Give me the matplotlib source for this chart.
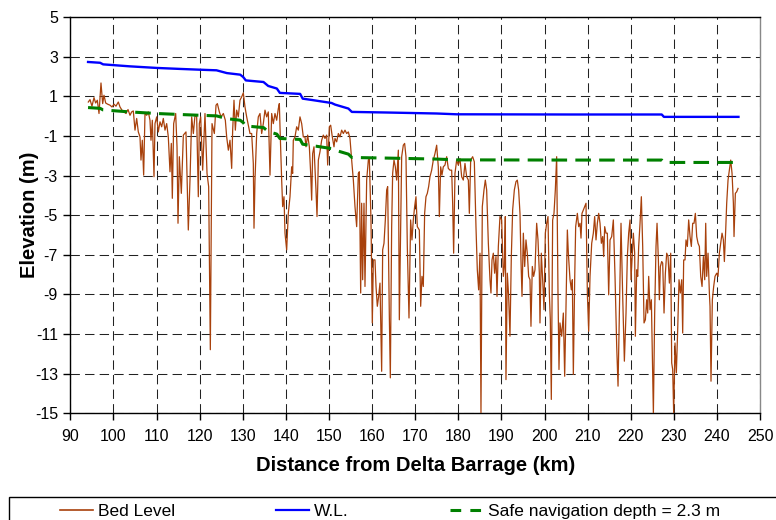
import matplotlib
matplotlib.use("Agg")
import matplotlib.pyplot as plt
from matplotlib.lines import Line2D
from matplotlib.patches import Rectangle
import numpy as np

plt.rcParams["font.family"] = ["Liberation Sans", "DejaVu Sans"]
plt.rcParams["axes.unicode_minus"] = False

# surveyed bed profile, chainage in km downstream of the Delta Barrage
bed_km = [
    94.16, 94.55, 95.01, 95.48, 95.86, 96.25, 96.64, 97.10, 97.49, 97.80,
    98.19, 98.65, 99.19, 99.65, 100.12, 100.58, 101.12, 101.51, 101.97, 102.44,
    102.90, 103.37, 103.83, 104.22, 104.60, 104.99, 105.38, 105.76, 106.15, 106.38,
    106.69, 107.00, 107.31, 107.70, 108.08, 108.47, 108.70, 109.01, 109.40, 109.63,
    110.02, 110.40, 110.79, 111.18, 111.56, 111.95, 112.34, 112.72, 113.11, 113.42,
    113.65, 113.96, 114.43, 114.74, 114.97, 115.28, 115.74, 116.21, 116.82, 117.36,
    117.75, 118.14, 118.53, 118.91, 119.30, 119.68, 119.92, 120.23, 120.69, 121.23,
    121.70, 122.08, 122.47, 122.86, 123.40, 123.79, 124.10, 124.56, 124.95, 125.49,
    125.95, 126.26, 126.65, 127.03, 127.42, 127.65, 127.96, 128.27, 128.58, 128.96,
    129.35, 129.74, 130.12, 130.51, 130.90, 131.67, 132.06, 132.44, 132.60, 132.83,
    133.22, 133.60, 133.99, 134.38, 134.76, 135.15, 135.54, 135.92, 136.31, 136.70,
    137.08, 137.47, 137.86, 138.24, 138.48, 138.63, 139.02, 139.25, 139.56, 139.79,
    140.18, 140.56, 140.95, 141.34, 141.57, 141.72, 142.11, 142.50, 142.88, 143.27,
    143.66, 144.04, 144.43, 144.66, 145.05, 145.44, 145.75, 145.98, 146.21, 146.52,
    146.98, 147.22, 147.53, 147.91, 148.30, 148.68, 149.07, 149.46, 149.69, 150.08,
    150.39, 150.77, 151.16, 151.39, 151.78, 152.17, 152.55, 152.94, 153.33, 153.71,
    154.10, 154.49, 154.87, 155.26, 155.65, 156.03, 156.42, 156.81, 157.04, 157.35,
    157.58, 157.81, 158.12, 158.35, 158.74, 159.13, 159.36, 159.74, 160.05, 160.29,
    160.67, 160.91, 161.21, 161.52, 161.83, 162.22, 162.45, 162.76, 163.07, 163.38,
    163.61, 164.00, 164.23, 164.54, 164.77, 165.08, 165.39, 165.70, 166.09, 166.32,
    166.86, 167.24, 167.55, 167.86, 168.17, 168.56, 168.94, 169.25, 169.56, 169.87,
    170.18, 170.49, 170.96, 171.27, 171.57, 171.88, 172.19, 172.50, 172.81, 173.12,
    173.43, 173.82, 174.20, 174.59, 174.98, 175.36, 175.60, 175.91, 176.21, 176.52,
    176.91, 177.30, 177.68, 178.07, 178.46, 178.69, 178.92, 179.23, 179.62, 180.00,
    180.39, 180.78, 181.16, 181.55, 181.94, 182.33, 182.56, 182.87, 183.33, 183.72,
    184.10, 184.41, 184.72, 185.03, 185.26, 185.57, 185.96, 186.27, 186.58, 186.97,
    187.35, 187.58, 187.82, 188.13, 188.43, 188.74, 188.98, 189.29, 189.67, 190.06,
    190.45, 190.68, 190.91, 191.06, 191.37, 191.68, 191.99, 192.30, 192.61, 193.00,
    193.38, 193.69, 194.00, 194.31, 194.54, 194.78, 195.09, 195.40, 195.70, 196.01,
    196.32, 196.63, 196.86, 197.17, 197.48, 197.79, 198.18, 198.49, 198.80, 198.95,
    199.26, 199.57, 199.88, 200.19, 200.50, 200.81, 201.12, 201.35, 201.58, 201.89,
    202.20, 202.51, 202.82, 203.13, 203.36, 203.59, 203.99, 204.37, 204.68, 204.99,
    205.30, 205.53, 205.92, 206.23, 206.46, 206.69, 207.00, 207.23, 207.62, 207.93,
    208.24, 208.47, 208.70, 209.01, 209.32, 209.63, 209.94, 210.25, 210.56, 210.95,
    211.33, 211.64, 211.95, 212.26, 212.57, 212.88, 213.19, 213.50, 213.73, 213.96,
    214.27, 214.58, 214.89, 215.20, 215.59, 215.97, 216.36, 216.75, 217.06, 217.37,
    217.75, 218.14, 218.53, 218.91, 219.22, 219.53, 219.84, 220.07, 220.38, 220.61,
    220.92, 221.08, 221.39, 221.62, 221.85, 222.16, 222.47, 222.78, 223.09, 223.40,
    223.71, 223.94, 224.17, 224.48, 224.79, 225.10, 225.26, 225.56, 225.87, 226.11,
    226.42, 226.65, 226.88, 227.19, 227.42, 227.73, 228.04, 228.35, 228.66, 228.97,
    229.28, 229.51, 229.74, 229.97, 230.28, 230.59, 230.90, 231.21, 231.52, 231.83,
    232.06, 232.29, 232.60, 232.83, 233.14, 233.45, 233.76, 234.07, 234.38, 234.69,
    235.00, 235.31, 235.62, 235.93, 236.24, 236.55, 236.86, 237.17, 237.40, 237.63,
    237.94, 238.25, 238.40, 238.63, 238.94, 239.25, 239.56, 239.95, 240.26, 240.57,
    240.88, 241.19, 241.50, 241.73, 242.04, 242.27, 242.58, 242.89, 243.20, 243.51,
    243.82, 243.97, 244.28, 244.59, 244.90,
]
bed_level = [
    0.71, 0.83, 0.50, 0.93, 0.66, 0.80, 0.13, 1.67, 0.63, 1.05,
    0.66, 0.60, 0.55, 0.46, 0.60, 0.50, 0.71, 0.46, 0.30, 0.21,
    0.13, 0.33, 0.04, 0.21, 0.26, -0.71, -0.12, -0.80, -1.05, -2.22,
    -1.22, -2.98, 0.13, 0.04, 0.21, -0.21, -1.22, -0.21, -3.06, -0.38,
    -0.04, -0.80, -0.29, -0.54, -0.12, -0.71, -0.38, -1.05, -2.81, -1.38,
    -4.15, -0.38, 0.13, -1.55, -5.41, -2.05, -3.90, -0.96, -0.80, -5.75,
    -3.23, -0.04, -0.88, 0.04, -0.04, -4.07, -0.38, -0.04, -2.73, 0.13,
    -2.89, -3.56, -11.79, -0.38, -0.88, 0.55, 0.63, 0.21, -0.04, 0.13,
    -0.21, -1.05, -1.72, -1.22, -2.64, -0.71, 0.80, -0.71, 0.30, -0.04,
    0.80, 0.97, 1.17, 0.46, -0.04, -0.88, -0.88, -2.39, -5.66, -3.23,
    -0.88, -0.04, 0.13, -0.88, -0.38, 0.30, -0.04, 0.21, -2.98, 0.13,
    -0.38, 0.13, -0.21, 0.38, 0.63, -0.54, -3.23, -4.57, -4.07, -5.91,
    -6.75, -4.91, -4.07, -2.56, -2.89, -1.22, -1.05, -0.54, -0.71, -0.04,
    -0.38, -1.05, -1.05, -1.55, -0.96, -1.55, -2.89, -4.24, -1.89, -1.55,
    -3.73, -5.07, -2.22, -1.80, -1.22, -0.96, -1.13, -0.96, -2.47, -0.54,
    -0.46, -1.05, -1.55, -1.13, -1.30, -0.88, -1.05, -0.71, -0.88, -0.71,
    -0.88, -0.80, -1.13, -2.22, -3.23, -4.57, -5.58, -2.89, -2.81, -8.93,
    -4.40, -8.26, -4.40, -8.60, -3.23, -2.22, -2.14, -5.24, -10.44, -7.26,
    -7.26, -8.60, -9.60, -9.10, -8.43, -12.88, -6.75, -6.42, -5.24, -3.73,
    -3.56, -10.11, -13.21, -5.58, -2.89, -2.22, -2.56, -3.23, -1.72, -10.28,
    -2.05, -1.47, -1.38, -2.05, -6.58, -10.19, -5.24, -6.25, -5.24, -4.57,
    -4.07, -5.58, -5.75, -9.60, -8.09, -8.60, -4.91, -4.07, -3.90, -3.56,
    -3.06, -2.73, -2.22, -1.89, -1.47, -2.56, -5.07, -2.56, -2.98, -2.56,
    -2.47, -2.05, -2.64, -2.73, -2.73, -4.40, -6.92, -2.89, -2.22, -2.47,
    -2.14, -3.06, -3.23, -2.39, -3.06, -3.23, -4.91, -2.22, -2.05, -2.31,
    -5.58, -7.76, -8.77, -6.92, -15.00, -4.57, -3.73, -3.23, -3.73, -6.42,
    -8.26, -8.93, -7.26, -6.92, -7.93, -7.09, -9.10, -6.58, -5.07, -5.24,
    -8.09, -7.59, -5.07, -13.30, -7.93, -9.10, -11.11, -7.09, -4.74, -3.73,
    -3.31, -3.23, -3.73, -4.91, -7.26, -9.10, -5.91, -7.59, -6.25, -6.92,
    -8.09, -8.26, -10.61, -7.59, -8.09, -7.76, -5.41, -6.25, -7.93, -10.44,
    -6.92, -8.26, -9.77, -5.91, -5.41, -5.07, -8.93, -10.28, -14.30, -5.24,
    -4.91, -3.73, -2.05, -8.93, -12.79, -10.44, -11.11, -9.94, -13.13, -9.60,
    -5.75, -6.92, -8.26, -8.77, -8.26, -13.04, -8.26, -5.58, -4.91, -5.58,
    -5.41, -6.16, -4.91, -4.74, -4.57, -4.40, -8.93, -10.86, -8.09, -6.42,
    -5.91, -5.07, -6.25, -5.41, -4.91, -5.41, -6.42, -6.08, -7.09, -5.58,
    -5.91, -5.91, -9.02, -6.25, -6.08, -5.24, -8.09, -11.62, -13.63, -9.94,
    -5.41, -9.10, -12.37, -9.94, -7.09, -5.91, -5.24, -8.26, -6.92, -5.91,
    -6.92, -11.11, -7.76, -8.09, -6.58, -5.41, -4.07, -6.58, -10.44, -10.28,
    -9.27, -9.94, -8.09, -9.77, -9.27, -13.13, -15.00, -9.94, -6.58, -5.41,
    -7.26, -9.27, -7.59, -7.34, -7.42, -9.94, -7.93, -6.92, -7.09, -8.43,
    -6.92, -12.46, -12.79, -15.00, -11.45, -12.96, -10.78, -8.26, -8.93, -8.26,
    -10.95, -7.26, -7.26, -6.25, -6.58, -5.24, -6.08, -6.58, -5.41, -5.41,
    -4.91, -6.08, -6.42, -6.58, -8.09, -8.60, -7.09, -8.26, -5.41, -8.09,
    -6.92, -8.93, -9.60, -13.38, -9.27, -8.60, -8.09, -7.93, -8.09, -6.92,
    -6.42, -5.91, -6.25, -7.34, -5.75, -4.40, -3.23, -2.73, -2.22, -2.89,
    -4.40, -6.08, -3.90, -3.82, -3.65,
]

# water level profile
wl_km = [94.1, 96.9, 97.6, 103.8, 110.0, 115.4, 120.1, 123.9, 126.3, 129.4,
         130.1, 130.7, 134.8, 135.9, 137.9, 138.6, 143.3, 143.9, 146.4, 150.6,
         151.4, 154.5, 155.3, 163.4, 175.0, 179.6, 205.9, 227.2, 227.7, 245.0]
wl_level = [2.73, 2.69, 2.61, 2.51, 2.43, 2.38, 2.34, 2.31, 2.17, 2.09,
            1.97, 1.80, 1.72, 1.52, 1.39, 1.17, 1.12, 0.88, 0.80, 0.66,
            0.58, 0.38, 0.21, 0.18, 0.13, 0.09, 0.08, 0.08, -0.04, -0.04]

safe_depth = 2.3  # m below water level
safe_level = np.array(wl_level) - safe_depth

x_ticks = list(range(90, 251, 10))
y_ticks = list(range(-15, 6, 2))

BED = "#a8410c"; WL = "#0000ff"; SAFE = "#008000"

fig = plt.figure(figsize=(7.76, 5.2), dpi=100)
ax = fig.add_axes([0.0907, 0.2052, 0.8887, 0.7621])

ax.plot(bed_km, bed_level, color=BED, lw=0.9, zorder=3)
ax.plot(wl_km, wl_level, color=WL, lw=1.7, zorder=4)
ax.plot(wl_km, safe_level, color=SAFE, lw=2.2, ls=(0, (5.1, 2.7)), zorder=5)

ax.set_xlim(90, 250); ax.set_ylim(-15, 5)
ax.set_xticks(x_ticks); ax.set_yticks(y_ticks)
ax.tick_params(direction="out", length=5, width=1, labelsize=11.5, colors="black")
ax.tick_params(axis="x", pad=6)
ax.tick_params(axis="y", pad=4)
ax.grid(True, color="#222222", lw=0.75, ls=(0, (9, 5)))
ax.set_axisbelow(True)
for s in ("left", "bottom", "top"):
    ax.spines[s].set_color("black"); ax.spines[s].set_linewidth(1)
ax.spines["right"].set_color("#888888"); ax.spines["right"].set_linewidth(1)

ax.set_xlabel("Distance from Delta Barrage (km)", fontsize=14.5, weight="bold")
ax.set_ylabel("Elevation (m)", fontsize=14.5, weight="bold")
ax.xaxis.set_label_coords(0.5, -0.108)
ax.yaxis.set_label_coords(-0.046, 0.5)

# legend strip along the bottom edge
fig.add_artist(Rectangle((9 / 776, -0.1), 1.2, 0.1 + 23 / 520, transform=fig.transFigure,
                         fill=False, ec="black", lw=1, clip_on=False))
handles = [Line2D([], [], color=BED, lw=1.2),
           Line2D([], [], color=WL, lw=1.6),
           Line2D([], [], color=SAFE, lw=2.2, ls=(0, (3.5, 3)))]
labels = ["Bed Level", "W.L.", "Safe navigation depth = 2.3 m"]
fig.legend(handles, labels, ncol=3, loc="center left", bbox_to_anchor=(60 / 776, 8.5 / 520),
           frameon=False, fontsize=12.5, handlelength=1.9, handletextpad=0.3,
           columnspacing=5.8, borderpad=0, borderaxespad=0)

fig.savefig("out.png", dpi=100, facecolor="white")
